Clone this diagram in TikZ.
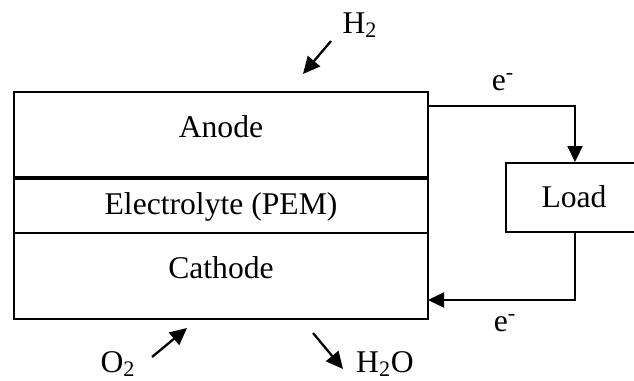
\documentclass[tikz,border=0pt]{standalone}
\usepackage{fontspec}
\setmainfont{Liberation Serif}
\usetikzlibrary{arrows.meta}

\begin{document}
\begin{tikzpicture}[x=0.02cm,y=0.02cm,
  every node/.style={font=\fontsize{18}{22}\selectfont},
  layer/.style={draw, line width=1.1pt, minimum width=8.28cm, inner sep=0pt},
  loadbox/.style={draw, line width=1.1pt, minimum width=2.76cm, minimum height=1.38cm, inner sep=0pt},
  wire/.style={line width=1.1pt, -{Triangle[length=0.32cm,width=0.3cm]}},
  flow/.style={line width=1.3pt, -{Triangle[length=0.34cm,width=0.32cm]}}]
\useasboundingbox (0,0) rectangle (634,380);
% cell layers
\node[layer, minimum height=1.7cm] (anode) at (221,245.5) {};
\node[layer, minimum height=1.12cm] (pem) at (221,175) {};
\node[layer, minimum height=1.72cm] (cathode) at (221,104) {};
\draw[line width=2pt] (anode.south west) -- (anode.south east);
\node (anodetxt) at ([yshift=0.16cm]anode.center) {Anode};
\node (pemtxt) at ([yshift=-0.04cm]pem.center) {Electrolyte (PEM)};
\node (cathodetxt) at ([yshift=0.16cm]cathode.center) {Cathode};
% external circuit
\node[loadbox] (load) at (575,182.5) {};
\node (loadtxt) at (574,183) {Load};
\coordinate (aout) at (428,274);
\coordinate (cin) at (428,80);
\draw[wire] (aout) -| (load.north);
\draw[wire] (load.south) |- (cin);
\node (etop) at (503,298) {e\textsuperscript{-}};
\node (ebot) at (505,57) {e\textsuperscript{-}};
% gases
\node (htwo) at (360,355) {H\textsubscript{2}};
\node (otwo) at (118,16) {O\textsubscript{2}};
\node (water) at (385,16) {H\textsubscript{2}O};
\coordinate (hin) at (303,306);
\coordinate (oin) at (187,52);
\coordinate (wout) at (313,47);
\draw[flow] (331,339) -- (hin);
\draw[flow] (152,23) -- (oin);
\draw[flow] (wout) -- (343,11);
\end{tikzpicture}
\end{document}
